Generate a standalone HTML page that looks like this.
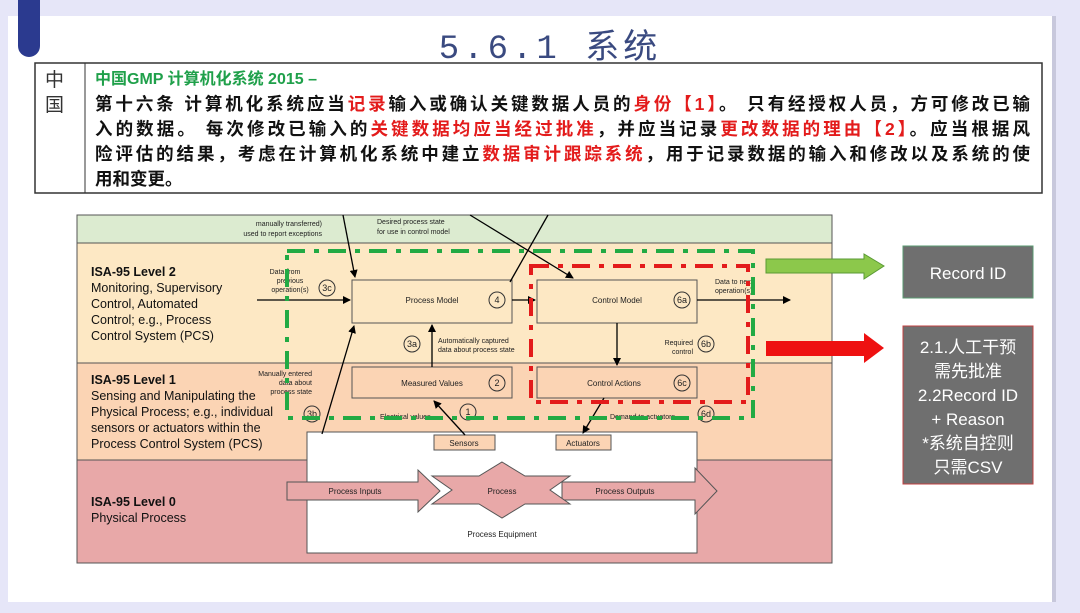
<!DOCTYPE html>
<html><head><meta charset="utf-8"><style>
body{margin:0;width:1080px;height:608px;background:#e6e6f8;overflow:hidden;font-family:"Liberation Sans","Noto Sans CJK SC",sans-serif}
</style></head><body>
<svg width="1080" height="608" viewBox="0 0 1080 608" xmlns="http://www.w3.org/2000/svg" font-family="Liberation Sans, Noto Sans CJK SC, sans-serif">
<defs>
<marker id="a" markerWidth="8" markerHeight="8" refX="7" refY="4" orient="auto" markerUnits="userSpaceOnUse"><path d="M0,0 L8,4 L0,8 z" fill="#000"/></marker>
</defs>
<rect x="8" y="16" width="1044" height="586" fill="#fff"/>
<rect x="1052" y="16" width="4" height="586" fill="#c8c8dc"/>
<path d="M18,0 H40 V46 A11,11 0 0 1 18,46 Z" fill="#2b3a8f"/>
<text x="550" y="58" font-size="34" fill="#3a4a80" text-anchor="middle" letter-spacing="4" font-family="Liberation Mono, Noto Sans CJK SC, monospace">5.6.1 系统</text>
<rect x="35" y="63" width="1007" height="130" fill="#fff" stroke="#333" stroke-width="1.5"/>
<line x1="85" y1="63" x2="85" y2="193" stroke="#333"/>
<text x="45" y="86" font-size="19" fill="#333">中</text>
<text x="45" y="111" font-size="19" fill="#333">国</text>
<g font-size="17.5" font-weight="bold" fill="#111">
<text x="95" y="84" fill="#1fa04a" font-size="16">中国GMP 计算机化系统 2015 –</text>
<text x="95" y="110" textLength="935" lengthAdjust="spacing">第十六条 计算机化系统应当<tspan fill="#e31b1b">记录</tspan>输入或确认关键数据人员的<tspan fill="#e31b1b">身份【1】</tspan>。 只有经授权人员，方可修改已输</text>
<text x="95" y="135" textLength="935" lengthAdjust="spacing">入的数据。 每次修改已输入的<tspan fill="#e31b1b">关键数据均应当经过批准</tspan>，并应当记录<tspan fill="#e31b1b">更改数据的理由【2】</tspan>。应当根据风</text>
<text x="95" y="160" textLength="935" lengthAdjust="spacing">险评估的结果，考虑在计算机化系统中建立<tspan fill="#e31b1b">数据审计跟踪系统</tspan>，用于记录数据的输入和修改以及系统的使</text>
<text x="95" y="185">用和变更。</text>
</g>
<rect x="77" y="215" width="755" height="28" fill="#dcebd0"/>
<rect x="77" y="243" width="755" height="120" fill="#fde8c4"/>
<rect x="77" y="363" width="755" height="97" fill="#fbd4b4"/>
<rect x="77" y="460" width="755" height="103" fill="#e8a8a8"/>
<g stroke="#555" fill="none" stroke-width="1"><line x1="77" y1="243" x2="832" y2="243"/><line x1="77" y1="363" x2="832" y2="363"/><line x1="77" y1="460" x2="832" y2="460"/><rect x="77" y="215" width="755" height="348"/></g>
<g font-size="12.5" fill="#111">
<text x="91" y="276" font-weight="bold">ISA-95 Level 2</text>
<text x="91" y="292">Monitoring, Supervisory</text>
<text x="91" y="308">Control, Automated</text>
<text x="91" y="324">Control; e.g., Process</text>
<text x="91" y="340">Control System (PCS)</text>
<text x="91" y="384" font-weight="bold">ISA-95 Level 1</text>
<text x="91" y="400">Sensing and Manipulating the</text>
<text x="91" y="416">Physical Process; e.g., individual</text>
<text x="91" y="432">sensors or actuators within the</text>
<text x="91" y="448">Process Control System (PCS)</text>
<text x="91" y="506" font-weight="bold">ISA-95 Level 0</text>
<text x="91" y="522">Physical Process</text>
</g>
<g font-size="7" fill="#222">
<text x="322" y="226" text-anchor="end">manually transferred)</text>
<text x="322" y="236" text-anchor="end">used to report exceptions</text>
<text x="377" y="224">Desired process state</text>
<text x="377" y="234">for use in control model</text>
<text x="285" y="274" text-anchor="middle">Data from</text>
<text x="290" y="283" text-anchor="middle">previous</text>
<text x="290" y="292" text-anchor="middle">operation(s)</text>
<text x="438" y="343">Automatically captured</text>
<text x="438" y="352">data about process state</text>
<text x="693" y="345" text-anchor="end">Required</text>
<text x="693" y="354" text-anchor="end">control</text>
<text x="312" y="376" text-anchor="end">Manually entered</text>
<text x="312" y="385" text-anchor="end">data about</text>
<text x="312" y="394" text-anchor="end">process state</text>
<text x="380" y="419">Electrical values</text>
<text x="610" y="419">Demand to actuators</text>
<text x="715" y="284">Data to next</text>
<text x="715" y="293">operation(s)</text>
</g>
<rect x="307" y="432" width="390" height="121" fill="#fff" stroke="#555"/>
<g fill="#e8a8a8" stroke="#555">
<path d="M287,482 H418 V470 L440,491 L418,512 V500 H287 Z"/>
<path d="M562,482 H695 V468 L717,491 L695,514 V500 H562 Z"/>
<path d="M502,462 L525,476 L570,476 L550,490 L570,504 L525,504 L502,518 L479,504 L432,504 L452,490 L432,476 L479,476 Z"/>
</g>
<g font-size="8" fill="#222" text-anchor="middle">
<text x="355" y="494">Process Inputs</text><text x="502" y="494">Process</text><text x="625" y="494">Process Outputs</text><text x="502" y="537">Process Equipment</text>
</g>
<g fill="#fbd4b4" stroke="#555">
<rect x="434" y="435" width="61" height="15"/><rect x="556" y="435" width="55" height="15"/>
<rect x="352" y="367" width="160" height="31"/><rect x="537" y="367" width="160" height="31"/>
<rect x="352" y="280" width="160" height="43" fill="#fde8c4"/><rect x="537" y="280" width="160" height="43" fill="#fde8c4"/>
</g>
<g font-size="8" fill="#222" text-anchor="middle">
<text x="464" y="446">Sensors</text><text x="583" y="446">Actuators</text>
<text x="432" y="303">Process Model</text><text x="617" y="303">Control Model</text>
<text x="432" y="386">Measured Values</text><text x="614" y="386">Control Actions</text>
</g>
<g fill="none" stroke="#333" font-size="9">
<circle cx="497" cy="300" r="8"/><circle cx="682" cy="300" r="8"/><circle cx="497" cy="383" r="8"/><circle cx="682" cy="383" r="8"/>
<circle cx="327" cy="288" r="8"/><circle cx="412" cy="344" r="8"/><circle cx="706" cy="344" r="8"/><circle cx="312" cy="414" r="8"/><circle cx="468" cy="412" r="8"/><circle cx="706" cy="414" r="8"/>
</g>
<g font-size="9" fill="#222" text-anchor="middle">
<text x="497" y="303">4</text><text x="682" y="303">6a</text><text x="497" y="386">2</text><text x="682" y="386">6c</text>
<text x="327" y="291">3c</text><text x="412" y="347">3a</text><text x="706" y="347">6b</text><text x="312" y="417">3b</text><text x="468" y="415">1</text><text x="706" y="417">6d</text>
</g>
<g stroke="#000" stroke-width="1.3" marker-end="url(#a)">
<line x1="343" y1="215" x2="355" y2="277"/>
<line x1="470" y1="215" x2="573" y2="278"/>
<line x1="257" y1="300" x2="350" y2="300"/>
<line x1="512" y1="300" x2="535" y2="300"/>
<line x1="697" y1="300" x2="790" y2="300"/>
<line x1="432" y1="367" x2="432" y2="325"/>
<line x1="617" y1="323" x2="617" y2="365"/>
<line x1="322" y1="434" x2="354" y2="326"/>
<line x1="465" y1="435" x2="434" y2="401"/>
<line x1="604" y1="398" x2="583" y2="433"/>
</g>
<line x1="548" y1="215" x2="510" y2="282" stroke="#000" stroke-width="1.3"/>
<rect x="287" y="251" width="466" height="167" fill="none" stroke="#22aa44" stroke-width="4" stroke-dasharray="18,9,5,9"/>
<rect x="531" y="266" width="217" height="136" fill="none" stroke="#e31b1b" stroke-width="4" stroke-dasharray="18,9,5,9"/>
<path d="M766,259 H864 V254 L884,266 L864,279 V273 H766 Z" fill="#8cc84b" stroke="#5a9a35"/>
<path d="M766,341 H864 V333 L884,348 L864,363 V356 H766 Z" fill="#ee1111"/>
<rect x="903" y="246" width="130" height="52" fill="#6f6f6f" stroke="#5a9a70"/>
<text x="968" y="279" font-size="17" fill="#fff" text-anchor="middle">Record ID</text>
<rect x="903" y="326" width="130" height="158" fill="#6f6f6f" stroke="#c04040"/>
<g font-size="17" fill="#fff" text-anchor="middle">
<text x="968" y="353">2.1.人工干预</text><text x="968" y="377">需先批准</text><text x="968" y="401">2.2Record ID</text><text x="968" y="425">+ Reason</text><text x="968" y="449">*系统自控则</text><text x="968" y="473">只需CSV</text>
</g>
</svg>
</body></html>
